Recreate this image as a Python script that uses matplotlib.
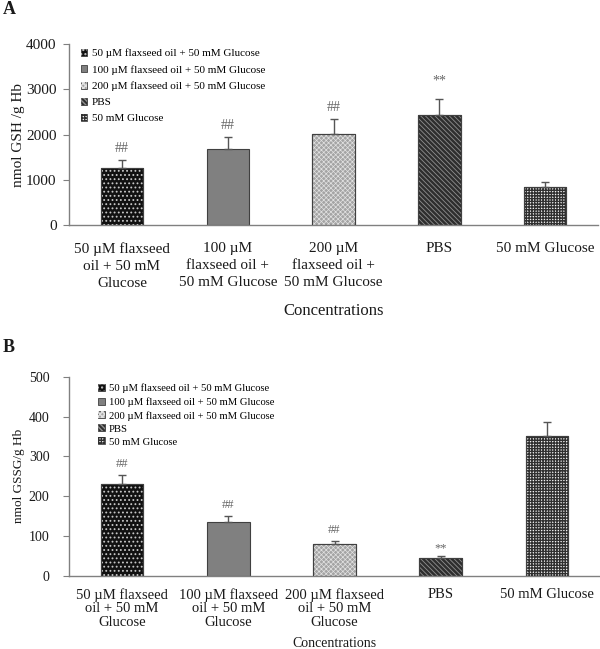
import matplotlib
matplotlib.use('Agg')
import matplotlib.pyplot as plt
from matplotlib.patches import Patch
import numpy as np

# ---- data ----
groups = ['50 \u00b5M flaxseed oil + 50 mM Glucose',
          '100 \u00b5M flaxseed oil + 50 mM Glucose',
          '200 \u00b5M flaxseed oil + 50 mM Glucose',
          'PBS',
          '50 mM Glucose']

ticks_a = ['50 \u00b5M flaxseed\noil + 50 mM\nGlucose',
           '100 \u00b5M\nflaxseed oil +\n50 mM Glucose',
           '200 \u00b5M\nflaxseed oil +\n50 mM Glucose',
           'PBS',
           '50 mM Glucose']
ticks_b = ['50 \u00b5M flaxseed\noil + 50 mM\nGlucose',
           '100 \u00b5M flaxseed\noil + 50 mM\nGlucose',
           '200 \u00b5M flaxseed\noil + 50 mM\nGlucose',
           'PBS',
           '50 mM Glucose']

gsh_mean = [1265, 1690, 2025, 2435, 845]
gsh_err = [175, 255, 315, 350, 120]
gsh_marks = ['##', '##', '##', '**', '']

gssg_mean = [231, 136, 80, 46, 351]
gssg_err = [23, 14, 8, 4, 36]
gssg_marks = ['##', '##', '##', '**', '']

# ---- styling ----
plt.rcParams['font.family'] = ['Liberation Serif', 'DejaVu Serif']

# (facecolor, hatch, hatch colour, hatch linewidth)
styles = [('#111111', '....', '#c8c8c8', 0.8),
          ('#808080', '', '#808080', 0.8),
          ('#a4a4a4', 'xxxxxxx', '#e2e2e2', 0.5),
          ('#2e2e2e', '\\' * 7, '#909090', 0.6),
          ('#f4f4f4', '++++++', '#303030', 1.0)]
edge = '#404040'
axis_grey = '#808080'
text_col = '#1a1a1a'
mark_col = '#666666'


def hatched_patches(fc, hatch, hc, lw):
    base = Patch(facecolor=fc, edgecolor=edge, linewidth=0.6)
    if not hatch:
        return base
    with plt.rc_context({'hatch.linewidth': lw}):
        top = Patch(facecolor='none', edgecolor=hc, hatch=hatch, linewidth=0)
    return (base, top)


def draw_panel(ax, means, errs, marks, ticklabels, ylabel, ymax, ystep,
               tick_fs, xt_fs, xt_ls, xt_pad, yt_pad, xl_fs, xl_y, yl_fs,
               leg_fs, leg_x, leg_y, leg_sp, mark_fs, mark_off):
    x = np.arange(len(means))
    for i in range(len(means)):
        fc, hatch, hc, lw = styles[i]
        ax.bar(x[i], means[i], width=0.4, color=fc, edgecolor=edge,
               linewidth=0.8, zorder=2)
        if hatch:
            with plt.rc_context({'hatch.linewidth': lw}):
                ax.bar(x[i], means[i], width=0.4, color='none', edgecolor=hc,
                       hatch=hatch, linewidth=0, zorder=3)
            ax.bar(x[i], means[i], width=0.4, color='none', edgecolor=edge,
                   linewidth=0.8, zorder=4)
    ax.errorbar(x, means, yerr=[np.zeros(len(errs)), errs], fmt='none',
                ecolor='#555555', elinewidth=1, capsize=3, capthick=1, zorder=5)
    for i, m in enumerate(marks):
        if m:
            ax.annotate(m, (x[i], means[i] + errs[i]),
                        xytext=(0, mark_off[m]), textcoords='offset points',
                        ha='center', va='bottom', fontsize=mark_fs,
                        color=mark_col)

    ax.set_xlim(-0.5, len(means) - 0.5)
    ax.set_ylim(0, ymax)
    ax.set_yticks(np.arange(0, ymax + 1, ystep))
    ax.set_xticks(x)
    ax.set_xticklabels(ticklabels, fontsize=xt_fs, linespacing=xt_ls,
                       color=text_col)
    ax.tick_params(axis='x', length=0, pad=xt_pad)
    ax.tick_params(axis='y', length=4, width=0.8, color=axis_grey,
                   labelsize=tick_fs, labelcolor=text_col, pad=yt_pad)
    for s in ['top', 'right']:
        ax.spines[s].set_visible(False)
    for s in ['left', 'bottom']:
        ax.spines[s].set_color(axis_grey)
        ax.spines[s].set_linewidth(1.0)

    ax.set_xlabel('Concentrations', fontsize=xl_fs, color=text_col, va='center')
    ax.xaxis.set_label_coords(0.5, xl_y)
    ax.set_ylabel(ylabel, fontsize=yl_fs, color=text_col, va='center')
    ax.yaxis.set_label_coords(-0.095, 0.5)

    handles = [hatched_patches(*s) for s in styles]
    ax.legend(handles, groups, loc='upper left', bbox_to_anchor=(leg_x, leg_y),
              frameon=False, fontsize=leg_fs, handlelength=0.6,
              handleheight=0.6, handletextpad=0.4, labelspacing=leg_sp,
              borderpad=0, borderaxespad=0)


fig = plt.figure(figsize=(6.0, 6.49), dpi=100)
fig.patch.set_facecolor('white')

ax_a = fig.add_axes([0.115, 0.653, 0.882, 0.279])
draw_panel(ax_a, gsh_mean, gsh_err, gsh_marks, ticks_a, 'nmol GSH /g Hb',
           4000, 1000, tick_fs=11, xt_fs=11, xt_ls=1.42, xt_pad=12, yt_pad=5,
           xl_fs=12, xl_y=-0.475, yl_fs=11, leg_fs=8, leg_x=0.022, leg_y=0.975,
           leg_sp=0.6, mark_fs=10, mark_off={'##': 3.5, '**': 8})

ax_b = fig.add_axes([0.115, 0.1125, 0.885, 0.307])
draw_panel(ax_b, gssg_mean, gssg_err, gssg_marks, ticks_b, 'nmol GSSG/g Hb',
           500, 100, tick_fs=10, xt_fs=10.5, xt_ls=1.05, xt_pad=8.5, yt_pad=10,
           xl_fs=10, xl_y=-0.34, yl_fs=9.5, leg_fs=7.7, leg_x=0.055,
           leg_y=0.965, leg_sp=0.36, mark_fs=9, mark_off={'##': 3.5, '**': 1})

fig.text(9 / 600, 1 - 10 / 649, 'A', fontsize=13, fontweight='bold',
         ha='center', va='center', color=text_col)
fig.text(9 / 600, 1 - 347 / 649, 'B', fontsize=13, fontweight='bold',
         ha='center', va='center', color=text_col)

fig.savefig('out.png', dpi=100, facecolor='white')
